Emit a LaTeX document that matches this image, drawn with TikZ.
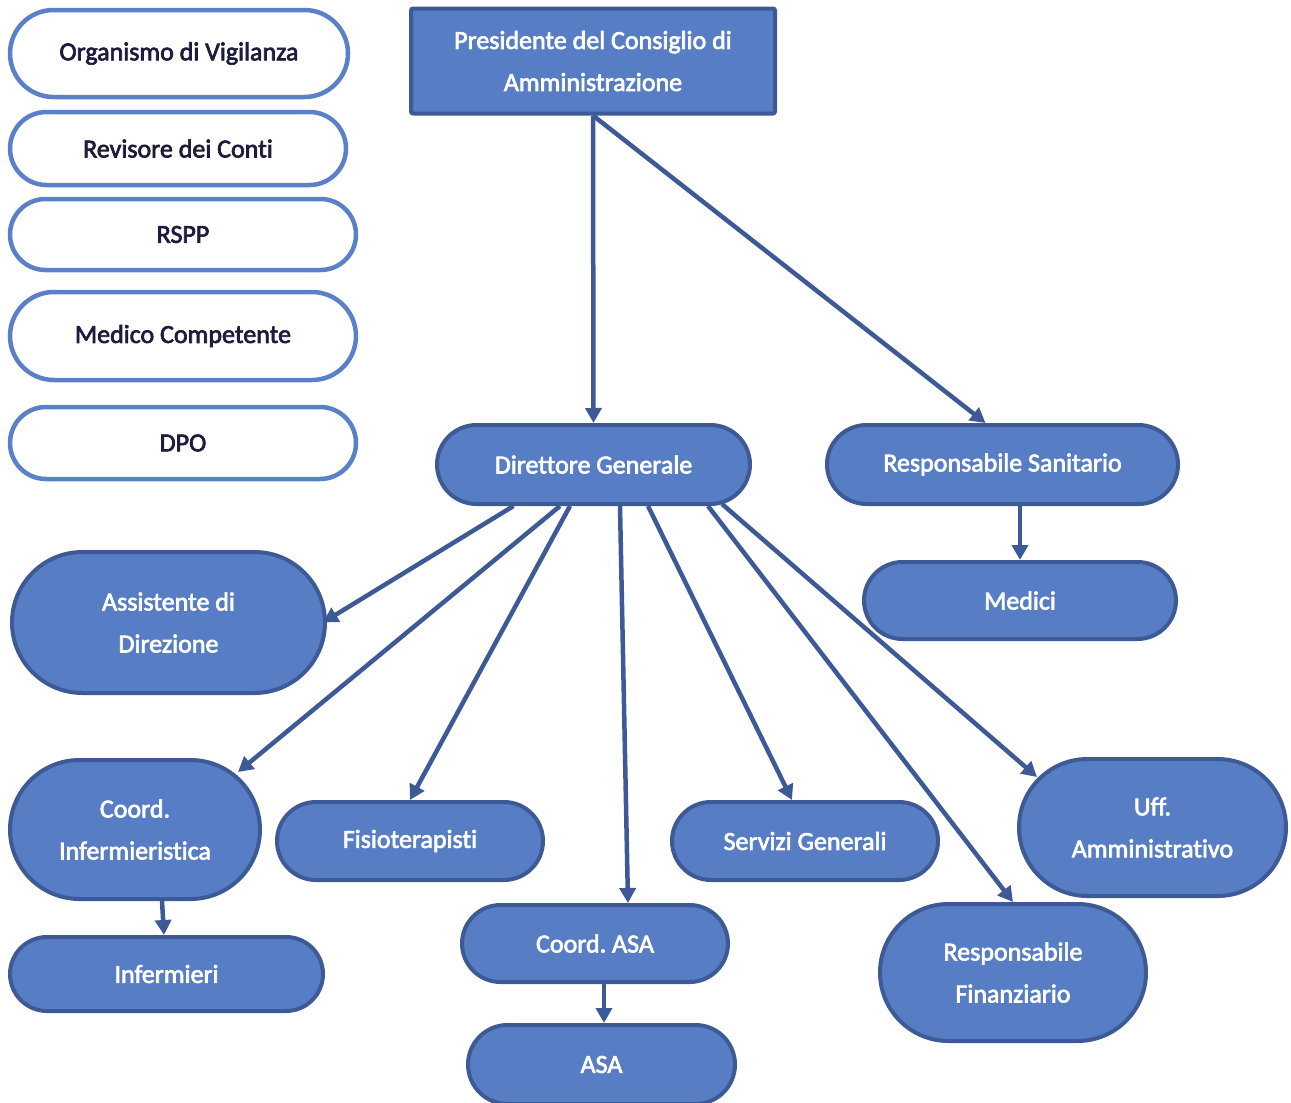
\documentclass[tikz,border=0pt]{standalone}
\usepackage{fontspec}
\setmainfont{Carlito}[Ligatures=NoCommon,RawFeature={embolden=2.6}]
\usetikzlibrary{arrows.meta,calc}
\definecolor{bfill}{RGB}{87,125,196}
\definecolor{bdark}{RGB}{62,90,150}
\definecolor{lblue}{RGB}{90,128,200}
\definecolor{navy}{RGB}{30,28,60}
\newcommand\pbox[7]{%
  \pgfmathsetmacro\pbW{#5-#3-4}\pgfmathsetmacro\pbH{#6-#4-4}\pgfmathsetmacro\pbR{\pbH/2}%
  \pgfmathsetmacro\pbX{(#3+#5)/2}\pgfmathsetmacro\pbY{(#4+#6)/2}%
  \node[#2, minimum width=\pbW pt, minimum height=\pbH pt, rounded corners=\pbR pt] (#1) at (\pbX,\pbY) {#7};}
\frenchspacing
\begin{document}
\begin{tikzpicture}[x=1pt,y=-1pt,
  base/.style={rectangle, line width=4pt, align=center, font=\fontsize{26}{42}\selectfont, inner sep=0pt},
  bluebox/.style={base, fill=bfill, draw=bdark, text=white},
  whitebox/.style={base, fill=white, draw=lblue, line width=4.5pt, text=navy},
  arr/.style={draw=bdark, line width=4.5pt, -{Triangle[length=15pt,width=16pt]}}]
\useasboundingbox (0,0) rectangle (1291,1103);
% left column
\pbox{odv}{whitebox}{8}{8}{350}{99}{Organismo di Vigilanza}
\pbox{rev}{whitebox}{8}{110}{348}{187}{\raisebox{-2pt}{Revisore dei Conti}}
\pbox{rspp}{whitebox}{8}{197}{358}{272}{\raisebox{-2pt}{RSPP}}
\pbox{mc}{whitebox}{8}{290}{358}{382}{Medico Competente}
\pbox{dpo}{whitebox}{8}{405}{358}{481}{\raisebox{-2pt}{DPO}}
% president
\node[bluebox, minimum width=364pt, minimum height=105pt, rounded corners=2pt] (pres) at (593,61) {Presidente del Consiglio di\\Amministrazione};
% main nodes
\pbox{dg}{bluebox}{435}{423}{752}{506}{\raisebox{-2pt}{Direttore Generale}}
\pbox{rs}{bluebox}{825}{423}{1180}{506}{\raisebox{-2pt}{Responsabile Sanitario}}
\pbox{med}{bluebox}{862}{560}{1178}{641}{Medici}
\pbox{asst}{bluebox}{10}{550}{327}{695}{Assistente di\\Direzione}
\pbox{ci}{bluebox}{8}{758}{262}{901}{Coord.\\Infermieristica}
\pbox{inf}{bluebox}{8}{935}{325}{1013}{\raisebox{-2pt}{Infermieri}}
\pbox{fis}{bluebox}{275}{800}{545}{882}{\raisebox{-2pt}{Fisioterapisti}}
\pbox{ca}{bluebox}{460}{903}{730}{984}{Coord. ASA}
\pbox{asa}{bluebox}{466}{1023}{737}{1106}{ASA}
\pbox{sg}{bluebox}{670}{800}{940}{882}{Servizi Generali}
\pbox{ua}{bluebox}{1017}{757}{1288}{898}{Uff.\\Amministrativo}
\pbox{rf}{bluebox}{878}{902}{1148}{1043}{Responsabile\\Finanziario}
% connectors
\draw[arr] (pres.south) -- (dg.north);
\draw[arr] (pres.south) -- ([xshift=-17pt]rs.north);
\draw[arr] (med.north |- rs.south) -- (med.north);
\draw[arr] ([xshift=-80pt]dg.south) -- ([xshift=-4pt]asst.east);
\draw[arr] ([xshift=-33.5pt]dg.south) -- ([xshift=-24pt,yshift=-14pt]ci.north east);
\draw[arr] ([xshift=-23.5pt]dg.south) -- (fis.north);
\draw[arr] ([xshift=26.5pt]dg.south) -- ([xshift=33pt]ca.north);
\draw[arr] ([xshift=54.5pt]dg.south) -- ([xshift=-13pt]sg.north);
\draw[arr] ([xshift=114.5pt]dg.south) -- (rf.north);
\draw[arr] ([xshift=128.5pt,yshift=2pt]dg.south) -- ([xshift=20pt,yshift=-20pt]ua.north west);
\draw[arr] ([xshift=27pt]ci.south) -- ([xshift=-2.5pt]inf.north);
\draw[arr] ([xshift=9pt]ca.south) -- ([xshift=2.5pt]asa.north);
\end{tikzpicture}
\end{document}
